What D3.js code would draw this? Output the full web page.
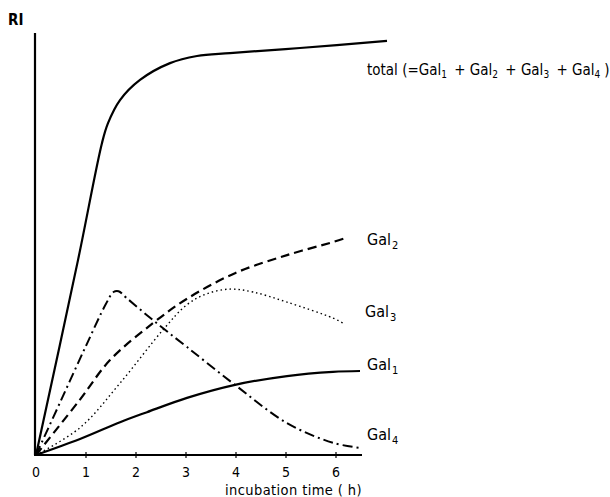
<!DOCTYPE html>
<meta charset="utf-8">
<style>
body { margin: 0; background: #fff; }
text { font-family: "DejaVu Sans Condensed", "DejaVu Sans", sans-serif; fill: #000; }
.curve { fill: none; stroke: #000; }
</style>
<script src="https://d3js.org/d3.v7.min.js"></script>
<div id="chart"></div>
<script>
// hours on the x axis
var xTicks = [0, 1, 2, 3, 4, 5, 6];

// curves (t in h, v in arbitrary RI units)
var total = [[0,0],[0.84,46.4],[1.32,74.3],[1.44,79],[1.68,84.5],[2.08,89.3],[2.68,93.3],[3.22,95],[3.88,95.7],[5.28,96.9],[7.02,98.6]];
var gal1 = [[0,0],[0.88,3.8],[1.68,7.8],[2.22,10.2],[3.02,13.6],[3.98,16.7],[5.02,18.8],[5.94,19.8],[6.48,20]];
var gal2 = [[0,0],[0.88,13.2],[1.48,22.6],[2.34,31.4],[3.02,37.2],[3.98,43.3],[5.02,47.6],[5.94,50.7],[6.18,51.6]];
var gal3 = [[0,0],[0.88,6.5],[1.68,17.1],[2.54,29.8],[3.02,35.8],[3.42,38.4],[3.88,39.5],[4.34,38.8],[5.02,36.4],[5.94,32.6],[6.14,31.4]];
var gal4 = [[0,0],[0.5,13],[1.0,26],[1.4,36],[1.55,38.8],[1.65,39],[1.8,37.5],[2.34,32.1],[3.02,25.7],[3.98,16.7],[5.02,7.6],[5.94,2.9],[6.48,1.7]];

// label of the total curve: text pieces with their subscripts
var totalParts = [["total (=Gal", "1"], [" + Gal", "2"], [" + Gal", "3"], [" + Gal", "4"]];

var width = 610, height = 497;

var svg = d3.select("#chart")
  .append("svg")
    .attr("width", width)
    .attr("height", height);

var x = d3.scaleLinear().domain([0, 7]).range([36, 386]);
var y = d3.scaleLinear().domain([0, 100]).range([455, 35]);

// axes
svg.append("line")
  .attr("x1", 35).attr("x2", 35)
  .attr("y1", y(0)).attr("y2", 33)
  .attr("stroke", "#000").attr("stroke-width", 2.2);
svg.append("line")
  .attr("x1", 34).attr("x2", x(6.52))
  .attr("y1", y(0)).attr("y2", y(0))
  .attr("stroke", "#000").attr("stroke-width", 2.2);

svg.selectAll(".tick")
  .data(xTicks.slice(1))
  .enter().append("line")
    .attr("x1", function(d) { return x(d); })
    .attr("x2", function(d) { return x(d); })
    .attr("y1", y(0) + 3).attr("y2", y(0) - 3)
    .attr("stroke", "#000").attr("stroke-width", 1.2);

svg.selectAll(".tlab")
  .data(xTicks)
  .enter().append("text")
    .attr("x", function(d) { return x(d); })
    .attr("y", 477)
    .attr("text-anchor", "middle")
    .style("font-size", "14px")
    .text(function(d) { return d; });

svg.append("text")
  .attr("x", 362).attr("y", 495)
  .attr("text-anchor", "end")
  .style("font-size", "14.5px")
  .style("letter-spacing", "0.4px")
  .text("incubation time ( h)");

svg.append("text")
  .attr("x", 8).attr("y", 25)
  .style("font-size", "15px")
  .style("font-weight", "bold")
  .text("RI");

// curves
var line = d3.line()
  .x(function(d) { return x(d[0]); })
  .y(function(d) { return y(d[1]); })
  .curve(d3.curveCatmullRom.alpha(0.5));

var series = [
  {data: total, w: 2.2, dash: null},
  {data: gal1, w: 2.2, dash: null},
  {data: gal2, w: 2.2, dash: "9,5"},
  {data: gal3, w: 1.4, dash: "1.5,3"},
  {data: gal4, w: 2, dash: "10,4,2,4"}
];

series.forEach(function(s) {
  svg.append("path")
    .attr("class", "curve")
    .attr("d", line(s.data))
    .attr("stroke-width", s.w)
    .attr("stroke-dasharray", s.dash);
});

// labels with subscripts
function galLabel(px, py, sub) {
  var t = svg.append("text")
    .attr("x", px).attr("y", py)
    .style("font-size", "16px");
  t.append("tspan").text("Gal");
  t.append("tspan").attr("dx", 1).attr("dy", 4).style("font-size", "11px").text(sub);
}
galLabel(367, 245, "2");
galLabel(365, 317, "3");
galLabel(367, 370, "1");
galLabel(367, 440, "4");

var tl = svg.append("text")
  .attr("x", 367).attr("y", 75)
  .style("font-size", "15px");
totalParts.forEach(function(p, i) {
  tl.append("tspan").attr("dy", i ? -3 : 0).attr("dx", i ? 3 : 0).text(p[0]);
  tl.append("tspan").attr("dy", 3).style("font-size", "10px").text(p[1]);
});
tl.append("tspan").attr("dy", -3).attr("dx", 4).text(")");
</script>
